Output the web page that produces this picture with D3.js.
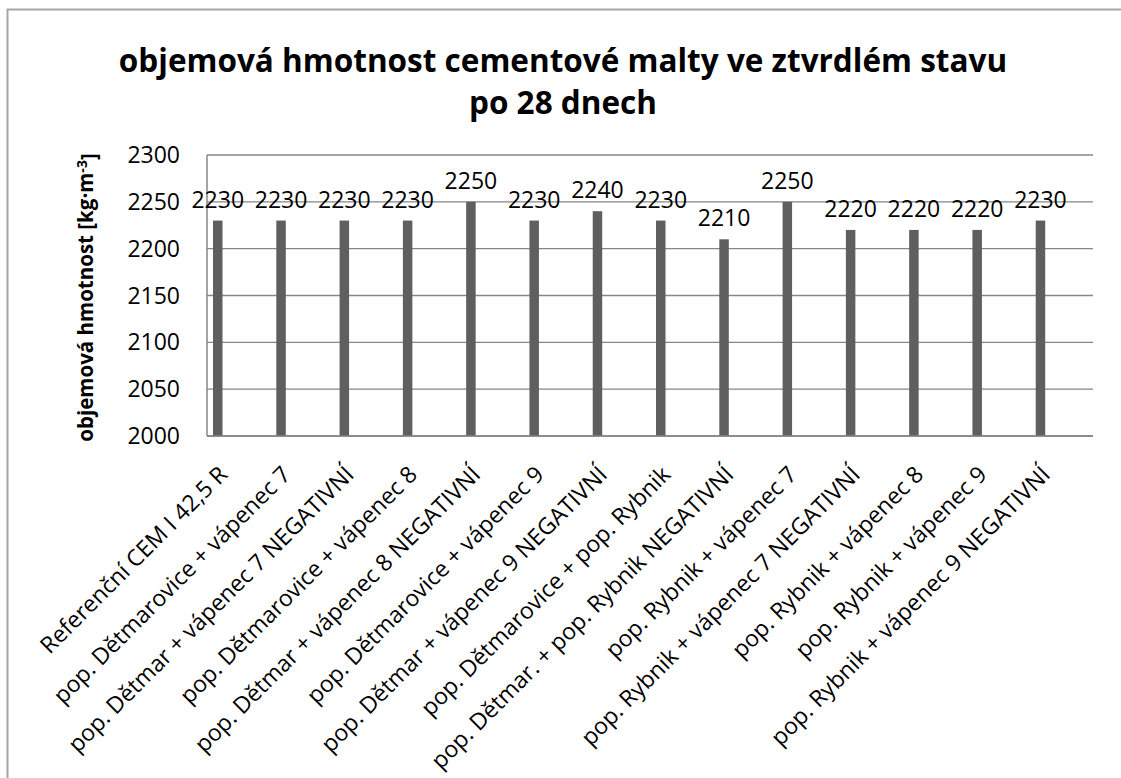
<!DOCTYPE html>
<html>
<head>
<meta charset="utf-8">
<script src="https://cdn.jsdelivr.net/npm/d3@7"></script>
<style>
  body { margin: 0; background: #fff; overflow: hidden; }
  svg { display: block; }
  svg text { font-family: "Open Sans", sans-serif; fill: #000; }
</style>
</head>
<body>
<svg id="chart"></svg>
<script>
// Category labels (x axis)
var categories = [
  "Referenční CEM I 42,5 R",
  "pop. Dětmarovice + vápenec 7",
  "pop. Dětmar + vápenec 7 NEGATIVNÍ",
  "pop. Dětmarovice + vápenec 8",
  "pop. Dětmar + vápenec 8 NEGATIVNÍ",
  "pop. Dětmarovice + vápenec 9",
  "pop. Dětmar + vápenec 9 NEGATIVNÍ",
  "pop. Dětmarovice + pop. Rybnik",
  "pop. Dětmar. + pop. Rybnik NEGATIVNÍ",
  "pop. Rybnik + vápenec 7",
  "pop. Rybnik + vápenec 7 NEGATIVNÍ",
  "pop. Rybnik + vápenec 8",
  "pop. Rybnik + vápenec 9",
  "pop. Rybnik + vápenec 9 NEGATIVNÍ"
];

// Bulk density values [kg/m3]
var values = [2230, 2230, 2230, 2230, 2250, 2230, 2240, 2230, 2210, 2250, 2220, 2220, 2220, 2230];

// Y axis ticks
var yTicks = [2000, 2050, 2100, 2150, 2200, 2250, 2300];

var width = 1121,
    height = 778;

var margin = { left: 207, right: 28, top: 155, bottom: 342 };

var svg = d3.select("#chart")
  .attr("width", width)
  .attr("height", height);

// Outer chart frame - only top and left edges are inside the picture
svg.append("path")
  .attr("d", "M7.5," + height + "V9.5H" + width)
  .attr("fill", "none")
  .attr("stroke", "#a6a6a6")
  .attr("stroke-width", 2);

var x = d3.scaleBand()
  .domain(categories)
  .range([margin.left, width - margin.right]);

var y = d3.scaleLinear()
  .domain([yTicks[0], yTicks[yTicks.length - 1]])
  .range([height - margin.bottom, margin.top]);

// Gridlines
svg.append("g")
  .selectAll("line")
  .data(yTicks)
  .enter().append("line")
  .attr("x1", margin.left)
  .attr("x2", width - margin.right)
  .attr("y1", function(d) { return y(d); })
  .attr("y2", function(d) { return y(d); })
  .attr("stroke", "#868686")
  .attr("stroke-width", 1.3);

// Y axis labels
svg.append("g")
  .selectAll("text")
  .data(yTicks)
  .enter().append("text")
  .attr("x", 180)
  .attr("y", function(d) { return y(d); })
  .attr("dy", "0.35em")
  .attr("text-anchor", "end")
  .style("font-size", "23px")
  .text(function(d) { return d; });

// Bars (sit at the left part of each category slot)
var barW = x.bandwidth() * 0.15,
    barOff = x.bandwidth() * 0.095;

function barCenter(i) { return x(categories[i]) + barOff + barW / 2; }

svg.append("g")
  .selectAll("rect")
  .data(values)
  .enter().append("rect")
  .attr("x", function(d, i) { return x(categories[i]) + barOff; })
  .attr("y", function(d) { return y(d); })
  .attr("width", barW)
  .attr("height", function(d) { return y(yTicks[0]) - y(d); })
  .attr("fill", "#5f5f5f");

// Axis lines
svg.append("line")
  .attr("x1", margin.left).attr("x2", margin.left)
  .attr("y1", margin.top).attr("y2", y(yTicks[0]))
  .attr("stroke", "#868686").attr("stroke-width", 1.5);
svg.append("line")
  .attr("x1", margin.left).attr("x2", width - margin.right)
  .attr("y1", y(yTicks[0])).attr("y2", y(yTicks[0]))
  .attr("stroke", "#868686").attr("stroke-width", 1.5);

// Value labels
svg.append("g")
  .selectAll("text")
  .data(values)
  .enter().append("text")
  .attr("x", function(d, i) { return barCenter(i); })
  .attr("y", function(d) { return y(d) - 13; })
  .attr("text-anchor", "middle")
  .style("font-size", "23px")
  .text(function(d) { return d; });

// Category labels, rotated 45 deg
svg.append("g")
  .selectAll("text")
  .data(categories)
  .enter().append("text")
  .attr("transform", function(d, i) {
    return "translate(" + (barCenter(i) + 11) + "," + (y(yTicks[0]) + 40) + ")rotate(-45)";
  })
  .attr("text-anchor", "end")
  .style("font-size", "23px")
  .text(function(d) { return d; });

// Y axis title
var yt = svg.append("text")
  .attr("transform", "translate(93," + ((margin.top + y(yTicks[0])) / 2 + 2) + ")rotate(-90)")
  .attr("text-anchor", "middle")
  .style("font-size", "20.5px")
  .style("font-weight", "bold");
yt.append("tspan").text("objemová hmotnost [kg·m");
yt.append("tspan").attr("dy", "-0.45em").style("font-size", "14px").text("-3");
yt.append("tspan").attr("dy", "0.45em").text("]");

// Chart title
svg.append("text")
  .attr("x", 563)
  .attr("y", 72)
  .attr("text-anchor", "middle")
  .style("font-size", "31.5px")
  .style("font-weight", "bold")
  .text("objemová hmotnost cementové malty ve ztvrdlém stavu");
svg.append("text")
  .attr("x", 563)
  .attr("y", 114)
  .attr("text-anchor", "middle")
  .style("font-size", "31.5px")
  .style("font-weight", "bold")
  .text("po 28 dnech");
</script>
</body>
</html>
